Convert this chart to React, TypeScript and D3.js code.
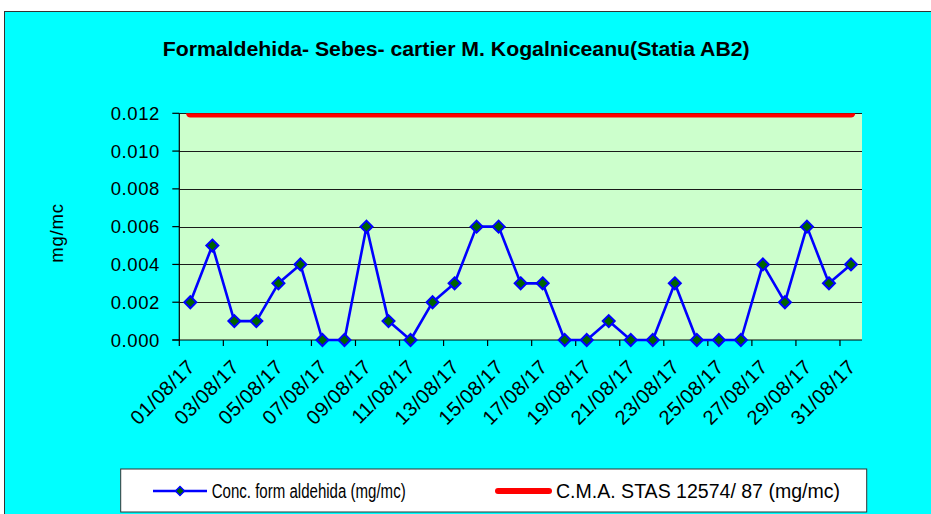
import React from "react";
import * as d3 from "d3";

const TITLE = "Formaldehida- Sebes- cartier M. Kogalniceanu(Statia AB2)";
const Y_TITLE = "mg/mc";
const SERIES_NAME = "Conc. form aldehida  (mg/mc)";
const LIMIT_NAME = "C.M.A. STAS 12574/  87 (mg/mc)";

const categories = [
  "01/08/17", "02/08/17", "03/08/17", "04/08/17", "05/08/17", "06/08/17", "07/08/17", "08/08/17",
  "09/08/17", "10/08/17", "11/08/17", "12/08/17", "13/08/17", "14/08/17", "15/08/17", "16/08/17",
  "17/08/17", "18/08/17", "19/08/17", "20/08/17", "21/08/17", "22/08/17", "23/08/17", "24/08/17",
  "25/08/17", "26/08/17", "27/08/17", "28/08/17", "29/08/17", "30/08/17", "31/08/17",
];

const concValues = [
  0.002, 0.005, 0.001, 0.001, 0.003, 0.004, 0, 0,
  0.006, 0.001, 0, 0.002, 0.003, 0.006, 0.006, 0.003,
  0.003, 0, 0, 0.001, 0, 0, 0.003, 0,
  0, 0, 0.004, 0.002, 0.006, 0.003, 0.004,
];

const limitValues = categories.map(() => 0.012);

const yTicks = [0, 0.002, 0.004, 0.006, 0.008, 0.01, 0.012];

export default function App() {
  const W = 931;
  const H = 514;
  const left = 179.3, right = 862, top = 113.3, bottom = 340;

  const x = d3.scaleBand<string>().domain(categories).range([left, right]).padding(0);
  const bw = x.bandwidth();
  const cx = (c: string) => (x(c) as number) + bw / 2;
  const y = d3.scaleLinear().domain([0, 0.012]).range([bottom, top]);
  const fmt = d3.format(".3f");

  const line = d3.line<number>()
    .x((_, i) => cx(categories[i]))
    .y((d) => y(d));

  const font = "'Liberation Sans', Arial, sans-serif";

  const diamond = (px: number, py: number, r: number) =>
    `M${px},${py - r}L${px + r},${py}L${px},${py + r}L${px - r},${py}Z`;

  return (
    <svg width={W} height={H} style={{ position: "absolute", left: 0, top: 0 }} fontFamily={font}>
      <defs>
        <clipPath id="plotclip">
          <rect x={left} y={top} width={right - left} height={bottom - top} />
        </clipPath>
      </defs>
      <rect x={0} y={0} width={W} height={H} fill="#ffffff" />
      <rect x={4.5} y={11.5} width={W + 10} height={H + 10} fill="#00FFFF" stroke="#333" strokeWidth={1} />

      {/* title */}
      <text x={162.7} y={56} fontSize={20} fontWeight="bold" fill="#000" textLength={587} lengthAdjust="spacingAndGlyphs">
        {TITLE}
      </text>

      {/* plot area */}
      <rect x={left} y={top} width={right - left} height={bottom - top} fill="#CCFFCC" />

      {/* gridlines */}
      {yTicks.filter((t) => t > 0).map((t) => (
        <line key={"g" + t} x1={left} x2={right} y1={Math.round(y(t)) + 0.5} y2={Math.round(y(t)) + 0.5} stroke="#1a1a1a" strokeWidth={1} />
      ))}

      {/* limit line */}
      <path d={line(limitValues) || ""} fill="none" stroke="#FF0000" strokeWidth={8.5} strokeLinecap="round" clipPath="url(#plotclip)" />

      {/* axes */}
      <line x1={left} x2={left} y1={top} y2={bottom} stroke="#000" strokeWidth={1.2} />
      <line x1={left - 7} x2={right} y1={bottom} y2={bottom} stroke="#000" strokeWidth={1.2} />
      {yTicks.map((t) => (
        <g key={"y" + t}>
          <line x1={left - 7} x2={left} y1={y(t)} y2={y(t)} stroke="#000" strokeWidth={1.2} />
          <text x={160} y={y(t) + 6.5} textAnchor="end" fontSize={18.5} fill="#000" letterSpacing={0.6}>
            {fmt(t)}
          </text>
        </g>
      ))}
      {categories.map((c, i) =>
        i % 2 === 0 ? (
          <g key={"x" + c}>
            <line x1={x(c) as number} x2={x(c) as number} y1={bottom} y2={bottom + 6} stroke="#000" strokeWidth={1.2} />
            <text
              transform={`translate(${cx(c) + 6},${368}) rotate(-45)`}
              textAnchor="end"
              fontSize={20}
              fill="#000"
              letterSpacing={0.5}
            >
              {c}
            </text>
          </g>
        ) : null
      )}

      {/* y title */}
      <text transform={`translate(63,233) rotate(-90)`} textAnchor="middle" fontSize={18.5} fill="#000" letterSpacing={0.8}>
        {Y_TITLE}
      </text>

      {/* series */}
      <path d={line(concValues) || ""} fill="none" stroke="#0000FF" strokeWidth={2.6} strokeLinejoin="round" />
      {concValues.map((v, i) => (
        <path key={"m" + i} d={diamond(cx(categories[i]), y(v), 6)} fill="#006400" stroke="#0000FF" strokeWidth={2} />
      ))}

      {/* legend */}
      <rect x={120.7} y={469} width={746} height={43} fill="#ffffff" stroke="#333" strokeWidth={1} />
      <line x1={153} x2={207} y1={491} y2={491} stroke="#0000FF" strokeWidth={2.6} />
      <path d={diamond(180, 491, 4.5)} fill="#006400" stroke="#0000FF" strokeWidth={1.5} />
      <text x={211.7} y={497.5} fontSize={19.5} fill="#000" textLength={194} lengthAdjust="spacingAndGlyphs">
        {SERIES_NAME}
      </text>
      <line x1={498} x2={549} y1={491} y2={491} stroke="#FF0000" strokeWidth={6} strokeLinecap="round" />
      <text x={556} y={497.5} fontSize={19.5} fill="#000" textLength={284} lengthAdjust="spacingAndGlyphs">
        {LIMIT_NAME}
      </text>
    </svg>
  );
}
